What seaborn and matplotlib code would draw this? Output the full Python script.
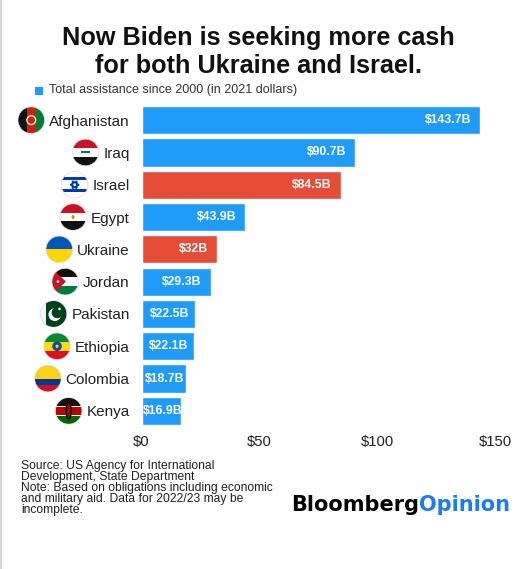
import numpy as np
import pandas as pd
import matplotlib
matplotlib.use("Agg")
import matplotlib.pyplot as plt
from matplotlib.patches import Circle, Rectangle, Polygon, Ellipse, RegularPolygon
from matplotlib.transforms import offset_copy
import seaborn as sns

# data
countries = ["Afghanistan", "Iraq", "Israel", "Egypt", "Ukraine",
             "Jordan", "Pakistan", "Ethiopia", "Colombia", "Kenya"]
aid = [143.7, 90.7, 84.5, 43.9, 32.0, 29.3, 22.5, 22.1, 18.7, 16.9]
aid_labels = ["$143.7B", "$90.7B", "$84.5B", "$43.9B", "$32B",
              "$29.3B", "$22.5B", "$22.1B", "$18.7B", "$16.9B"]
highlight = ["Israel", "Ukraine"]
x_ticks = [0, 50, 100, 150]
x_tick_labels = ["$0", "$50", "$100", "$150"]

BLUE = "#1f9bfb"
RED = "#e54d38"
TXT = "#222222"
W, H = 527, 569

sns.set_theme(style="white")
plt.rcParams["font.family"] = ["Liberation Sans", "DejaVu Sans"]

df = pd.DataFrame({"country": countries, "aid": aid})
colors = [RED if c in highlight else BLUE for c in countries]

fig = plt.figure(figsize=(W / 100, H / 100), dpi=100)
ax = fig.add_axes([141.5 / W, 1 - 427 / H, (495 - 141.5) / W, (427 - 104) / H])
sns.barplot(data=df, x="aid", y="country", hue="country", palette=colors,
            legend=False, width=0.87, saturation=1, ax=ax)
ax.set_xlim(0, 150)
ax.set_ylim(9.5, -0.5)
sns.despine(ax=ax, left=True, bottom=True)
ax.set_xlabel("")
ax.set_ylabel("")
ax.set_xticks(x_ticks, x_tick_labels)
ax.tick_params(axis="x", length=0, pad=6, labelsize=10.7, labelcolor=TXT)
ax.tick_params(axis="y", length=0, pad=8.5, labelsize=11, labelcolor=TXT)

# value labels inside bars
shift = offset_copy(ax.transData, fig=fig, x=-9, y=0, units="dots")
for i, (v, lab) in enumerate(zip(aid, aid_labels)):
    if v < 25:
        ax.text(v / 2 + 0.6, i, lab, ha="center", va="center", color="white",
                fontsize=8.8, fontweight="bold")
    else:
        ax.text(v, i, lab, ha="right", va="center", color="white",
                fontsize=8.8, fontweight="bold", transform=shift)

# titles and notes
fig.text(258.5 / W, 1 - 45 / H, "Now Biden is seeking more cash", ha="center",
         va="baseline", fontsize=18.2, fontweight="bold", color="#111111")
fig.text(258.5 / W, 1 - 72.7 / H, "for both Ukraine and Israel.", ha="center",
         va="baseline", fontsize=18.2, fontweight="bold", color="#111111")
fig.text(49 / W, 1 - 90.5 / H, "Total assistance since 2000 (in 2021 dollars)",
         ha="left", va="center", fontsize=9, color="#333333")
fig.text(21 / W, 1 - 459.5 / H,
         "Source: US Agency for International\nDevelopment, State Department\n"
         "Note: Based on obligations including economic\n"
         "and military aid. Data for 2022/23 may be\nincomplete.",
         ha="left", va="top", fontsize=8.7, color=TXT, linespacing=0.91)

fig.canvas.draw()
renderer = fig.canvas.get_renderer()

# overlay in pixel units for flags, legend square, border, logo
ov = fig.add_axes([0, 0, 1, 1])
ov.set_xlim(0, W)
ov.set_ylim(0, H)
ov.axis("off")
ov.set_zorder(5)

ov.add_patch(Rectangle((35, H - 94.5), 8, 8, facecolor=BLUE, lw=0))
ov.plot([1.2, 1.2], [0, H], color="#d8d8d8", lw=1.6)

logo1 = ov.text(291, H - 511, "Bloomberg", ha="left", va="baseline",
                fontsize=15, fontweight="bold", family="DejaVu Sans", color="black")
fig.canvas.draw()
bb = logo1.get_window_extent(renderer)
ov.text(bb.x1 + 0.5, H - 511, "Opinion", ha="left", va="baseline",
        fontsize=15, fontweight="bold", family="DejaVu Sans", color="#1a7cf5")


def add(p, clip):
    ov.add_patch(p)
    p.set_clip_path(clip)


def hstripes(cx, cy, r, cols, fracs, clip):
    top = cy + r
    for c, f in zip(cols, fracs):
        h = 2 * r * f
        add(Rectangle((cx - r, top - h), 2 * r, h, facecolor=c, lw=0), clip)
        top -= h


def flag(name, cx, cy, r):
    clip = Circle((cx, cy), r, transform=ov.transData)
    if name == "Afghanistan":
        for k, c in enumerate(["#111111", "#d32011", "#007a36"]):
            add(Rectangle((cx - r + k * 2 * r / 3, cy - r), 2 * r / 3, 2 * r,
                          facecolor=c, lw=0), clip)
        add(Circle((cx, cy), r * 0.33, facecolor="none", edgecolor="white", lw=0.9), clip)
    elif name == "Iraq":
        hstripes(cx, cy, r, ["#ce1126", "white", "#111111"], [1 / 3] * 3, clip)
        add(Rectangle((cx - 0.35 * r, cy - 0.06 * r), 0.7 * r, 0.14 * r,
                      facecolor="#007a3d", lw=0), clip)
    elif name == "Israel":
        add(Rectangle((cx - r, cy - r), 2 * r, 2 * r, facecolor="white", lw=0), clip)
        for s in (1, -1):
            add(Rectangle((cx - r, cy + s * 0.55 * r - (0.22 * r if s > 0 else 0)),
                          2 * r, 0.22 * r, facecolor="#0038b8", lw=0), clip)
        for o in (np.pi / 2, -np.pi / 2):
            add(RegularPolygon((cx, cy), 3, radius=0.32 * r, orientation=o,
                               facecolor="none", edgecolor="#0038b8", lw=1.1), clip)
    elif name == "Egypt":
        hstripes(cx, cy, r, ["#ce1126", "white", "#111111"], [1 / 3] * 3, clip)
        add(Ellipse((cx, cy), 0.22 * r, 0.3 * r, facecolor="#c09300", lw=0), clip)
    elif name == "Ukraine":
        hstripes(cx, cy, r, ["#0057b7", "#ffd700"], [0.5, 0.5], clip)
    elif name == "Jordan":
        hstripes(cx, cy, r, ["#111111", "white", "#007a3d"], [1 / 3] * 3, clip)
        add(Polygon([(cx - r, cy + r), (cx - r, cy - r), (cx + 0.05 * r, cy)],
                    facecolor="#ce1126", lw=0), clip)
        add(Circle((cx - 0.55 * r, cy), 0.1 * r, facecolor="white", lw=0), clip)
    elif name == "Pakistan":
        add(Rectangle((cx - r, cy - r), 0.45 * r, 2 * r, facecolor="#f4f4f4", lw=0), clip)
        add(Rectangle((cx - 0.55 * r, cy - r), 1.55 * r, 2 * r, facecolor="#01411c", lw=0), clip)
        add(Circle((cx + 0.1 * r, cy - 0.05 * r), 0.48 * r, facecolor="white", lw=0), clip)
        add(Circle((cx + 0.28 * r, cy + 0.1 * r), 0.42 * r, facecolor="#01411c", lw=0), clip)
        add(Circle((cx + 0.45 * r, cy + 0.38 * r), 0.1 * r, facecolor="white", lw=0), clip)
    elif name == "Ethiopia":
        hstripes(cx, cy, r, ["#078930", "#fcdd09", "#da121a"], [1 / 3] * 3, clip)
        add(Circle((cx, cy), 0.36 * r, facecolor="#0f47af", lw=0), clip)
        add(Circle((cx, cy), 0.12 * r, facecolor="#fcdd09", lw=0), clip)
    elif name == "Colombia":
        hstripes(cx, cy, r, ["#fcd116", "#003893", "#ce1126"], [0.5, 0.25, 0.25], clip)
    elif name == "Kenya":
        hstripes(cx, cy, r, ["#111111", "white", "#bb0000", "white", "#006600"],
                 [0.3, 0.05, 0.3, 0.05, 0.3], clip)
        add(Ellipse((cx, cy), 0.36 * r, 1.2 * r, facecolor="#bb0000",
                    edgecolor="#111111", lw=1.2), clip)
    ov.add_patch(Circle((cx, cy), r, facecolor="none", edgecolor="#dddddd", lw=0.5))


r = 13.3
for i, lab in enumerate(ax.get_yticklabels()):
    tb = lab.get_window_extent(renderer)
    cy = ax.transData.transform((0, i))[1]
    flag(lab.get_text(), tb.x0 - 4.5 - r, cy, r)

fig.savefig("out.png", dpi=100, facecolor="white")
